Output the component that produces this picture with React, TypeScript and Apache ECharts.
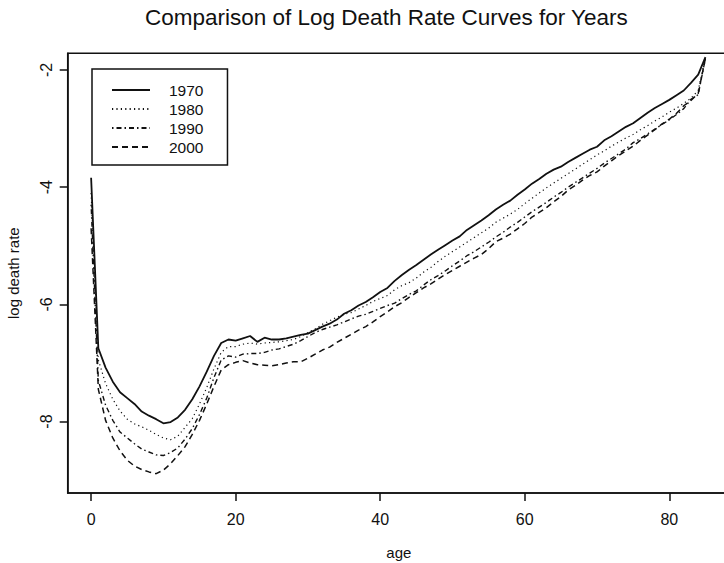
import React, { useEffect, useRef } from "react";
import * as echarts from "echarts";

const ages: number[] = Array.from({ length: 86 }, (_, i) => i);

const y1970: number[] = [
  -3.84, -6.75, -7.08, -7.32, -7.5, -7.6, -7.7, -7.83, -7.9, -7.96,
  -8.03, -8.01, -7.93, -7.8, -7.62, -7.4, -7.15, -6.88, -6.66, -6.6,
  -6.62, -6.58, -6.54, -6.64, -6.57, -6.6, -6.6, -6.58, -6.55, -6.52,
  -6.5, -6.44, -6.38, -6.33, -6.26, -6.16, -6.1, -6.02, -5.96, -5.88,
  -5.79, -5.72, -5.6, -5.5, -5.41, -5.33, -5.24, -5.15, -5.07, -4.99,
  -4.91, -4.84, -4.73, -4.65, -4.57, -4.48, -4.38, -4.3, -4.23, -4.13,
  -4.04, -3.94, -3.86, -3.77, -3.7, -3.65, -3.57, -3.5, -3.43, -3.36,
  -3.31, -3.2, -3.13, -3.05, -2.97, -2.91, -2.82, -2.73, -2.65, -2.58,
  -2.51, -2.43, -2.35, -2.22, -2.08, -1.78,
];
const y1980: number[] = [
  -4.1, -6.95, -7.35, -7.62, -7.82, -7.96, -8.04, -8.09, -8.15, -8.22,
  -8.28, -8.31, -8.25, -8.1, -7.95, -7.7, -7.42, -7.1, -6.82, -6.72,
  -6.72, -6.68, -6.66, -6.68, -6.66, -6.65, -6.64, -6.62, -6.6, -6.55,
  -6.48, -6.42, -6.34, -6.28, -6.22, -6.17, -6.14, -6.08, -6.02, -5.95,
  -5.9, -5.85, -5.75, -5.68, -5.63, -5.55, -5.45, -5.37, -5.27, -5.18,
  -5.1, -5.02, -4.94, -4.86, -4.78, -4.7, -4.6, -4.53, -4.46, -4.38,
  -4.28, -4.19, -4.1, -4.01, -3.93, -3.85, -3.77, -3.69, -3.61, -3.53,
  -3.45, -3.38, -3.3, -3.23, -3.16, -3.1, -3.02, -2.95, -2.87, -2.8,
  -2.72, -2.65, -2.57, -2.48, -2.35, -1.78,
];
const y1990: number[] = [
  -4.3, -7.3, -7.72, -7.98, -8.18, -8.28, -8.38, -8.47, -8.52, -8.57,
  -8.58, -8.53, -8.45, -8.3, -8.12, -7.88, -7.6, -7.25, -6.95, -6.88,
  -6.9, -6.85, -6.84, -6.84, -6.82, -6.78, -6.76, -6.72, -6.68, -6.62,
  -6.55, -6.48, -6.43, -6.39, -6.35, -6.3, -6.25, -6.2, -6.17, -6.12,
  -6.07, -6.02, -5.98, -5.9, -5.83, -5.77, -5.67, -5.58, -5.51, -5.43,
  -5.34, -5.26, -5.17, -5.1, -5.02, -4.94, -4.85, -4.77, -4.68, -4.6,
  -4.51, -4.42, -4.34, -4.26, -4.17, -4.09, -4.0, -3.92, -3.84, -3.76,
  -3.68, -3.59, -3.51, -3.43, -3.35, -3.24, -3.17, -3.09, -3.01, -2.93,
  -2.85, -2.76, -2.66, -2.5, -2.42, -1.8,
];
const y2000: number[] = [
  -4.7, -7.45, -7.98, -8.28, -8.5, -8.66, -8.76, -8.82, -8.86, -8.89,
  -8.83, -8.72, -8.58, -8.43, -8.22, -7.98, -7.7, -7.4, -7.12, -7.03,
  -6.99, -6.96, -7.0, -7.03, -7.04, -7.05, -7.03, -7.0, -6.98, -6.98,
  -6.92, -6.85, -6.78, -6.73, -6.65, -6.58, -6.51, -6.44, -6.38, -6.3,
  -6.21, -6.13, -6.04, -5.97, -5.88, -5.8, -5.72, -5.65, -5.57, -5.49,
  -5.42, -5.35, -5.28, -5.21, -5.15, -5.05, -4.93, -4.87, -4.8, -4.71,
  -4.62, -4.51, -4.43, -4.35, -4.25, -4.16, -4.05, -3.97, -3.88, -3.8,
  -3.74, -3.64, -3.55, -3.46, -3.38, -3.3, -3.2, -3.11, -3.02, -2.92,
  -2.84, -2.74, -2.61, -2.52, -2.4, -1.8,
];

const seriesNames: string[] = ["1970", "1980", "1990", "2000"];
const xTicks: number[] = [0, 20, 40, 60, 80];
const yTicks: number[] = [-8, -6, -4, -2];

const INK = "#111";
const FONT = "Liberation Sans, Arial, sans-serif";

export default function App() {
  const ref = useRef<HTMLDivElement>(null);
  useEffect(() => {
    if (!ref.current) return;
    const chart = echarts.init(ref.current, null, { renderer: "svg" });
    const allData = [y1970, y1980, y1990, y2000];
    const styles = [
      { type: "solid" as any, width: 1.8 },
      { type: [1.2, 3.2] as any, width: 1.2 },
      { type: [1.5, 3, 5, 3] as any, width: 1.4 },
      { type: [6, 4] as any, width: 1.5 },
    ];
    chart.setOption({
      animation: false,
      backgroundColor: "#fff",
      title: {
        text: "Comparison of Log Death Rate Curves for Years",
        left: 140,
        top: 1,
        textStyle: { fontFamily: FONT, fontSize: 22.5, fontWeight: "normal", color: INK },
      },
      legend: {
        orient: "vertical",
        left: 92,
        top: 69,
        itemWidth: 38,
        itemHeight: 14,
        itemGap: 3,
        padding: [13, 24, 10, 19],
        borderColor: INK,
        borderWidth: 1.5,
        borderRadius: 0,
        data: seriesNames,
        itemStyle: { opacity: 0 },
        textStyle: {
          fontFamily: FONT,
          fontSize: 15.5,
          color: INK,
          padding: [0, 0, 0, 14],
        },
      },
      grid: {
        left: 67.7,
        top: 53.3,
        bottom: 70,
        right: -6,
        outerBoundsMode: "none",
        containLabel: false,
        show: true,
        borderColor: INK,
        borderWidth: 1.5,
        backgroundColor: "transparent",
      },
      xAxis: {
        type: "value",
        min: -3.24,
        max: 88.4,
        name: "age",
        nameLocation: "middle",
        nameGap: 52,
        nameTextStyle: { fontFamily: FONT, fontSize: 15, color: INK },
        axisLine: { show: true, onZero: false, lineStyle: { color: INK, width: 1.5 } },
        axisTick: {
          show: true,
          length: 8,
          customValues: xTicks,
          lineStyle: { color: INK, width: 1.5 },
        },
        axisLabel: {
          customValues: xTicks,
          margin: 18,
          fontFamily: FONT,
          fontSize: 16,
          color: INK,
        },
        splitLine: { show: false },
      },
      yAxis: {
        type: "value",
        min: -9.22,
        max: -1.715,
        name: "log death rate",
        nameLocation: "middle",
        nameRotate: 90,
        nameGap: 47,
        nameTextStyle: { fontFamily: FONT, fontSize: 15, color: INK },
        axisLine: { show: true, onZero: false, lineStyle: { color: INK, width: 1.5 } },
        axisTick: {
          show: true,
          length: 8,
          customValues: yTicks,
          lineStyle: { color: INK, width: 1.5 },
        },
        axisLabel: {
          customValues: yTicks,
          rotate: 90,
          margin: 13,
          fontFamily: FONT,
          fontSize: 16,
          color: INK,
        },
        splitLine: { show: false },
      },
      series: seriesNames.map((name, k) => ({
        name,
        type: "line",
        symbol: "none",
        showSymbol: false,
        data: ages.map((a, i) => [a, allData[k][i]]),
        lineStyle: { color: INK, width: styles[k].width, type: styles[k].type },
        itemStyle: { color: INK },
        z: 10 - k,
      })),
    });
    return () => chart.dispose();
  }, []);
  return (
    <div
      ref={ref}
      style={{ position: "fixed", left: 0, top: 0, width: 724, height: 563, background: "#fff" }}
    />
  );
}
